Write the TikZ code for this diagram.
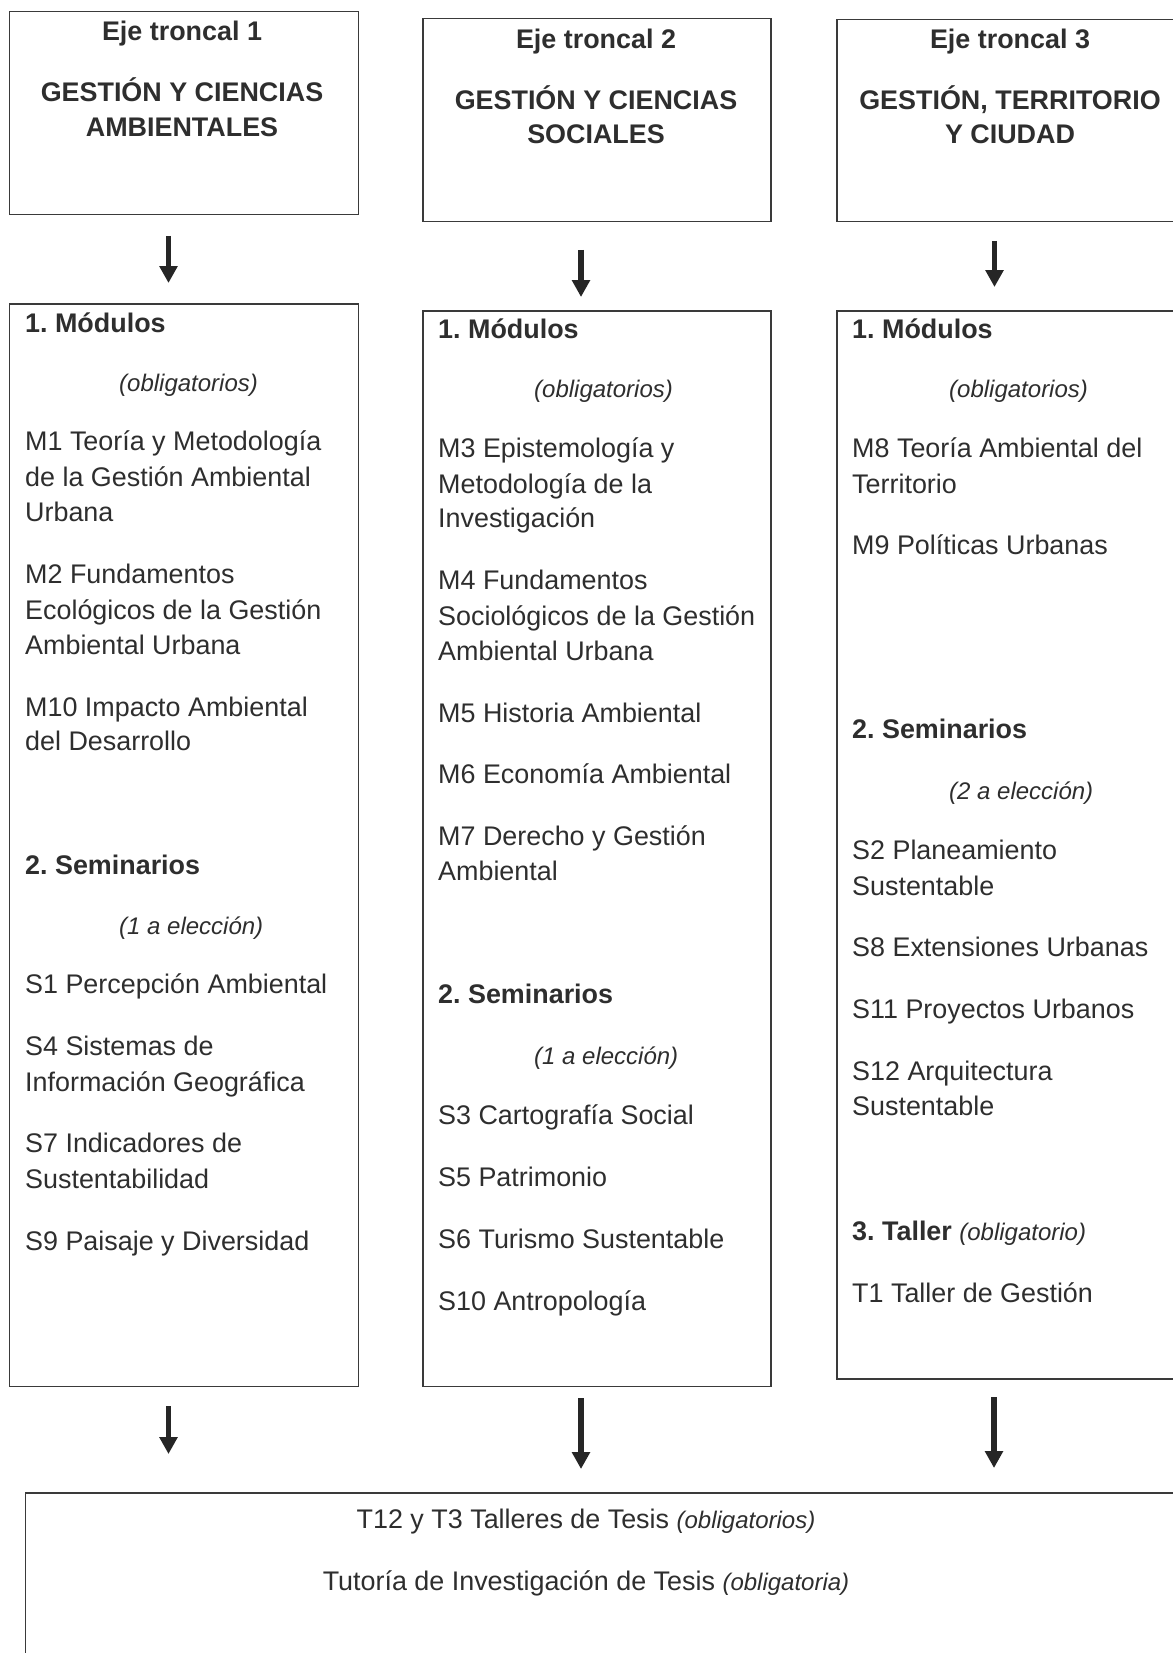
\documentclass[tikz,border=0pt]{standalone}
\usepackage{fontspec}
\setmainfont{Liberation Sans}
\usetikzlibrary{arrows.meta}
\definecolor{linec}{HTML}{3A3A3A}
\definecolor{textc}{HTML}{2E2E2E}
\newcommand{\fsz}{\fontsize{26.9}{35}\selectfont\frenchspacing}
\newcommand{\itx}[1]{{\fontsize{24}{30}\selectfont\itshape #1}}
\tikzset{
  box/.style={draw=linec, line width=1.5pt, inner sep=0pt, anchor=north west},
  txt/.style={anchor=base west, inner sep=0pt, text=textc, font=\fsz},
  ttl/.style={anchor=base, inner sep=0pt, text=textc, font=\fsz\bfseries},
  ctr/.style={anchor=base, inner sep=0pt, text=textc, font=\fsz},
  arr/.style={draw=black!85, line width=5.5pt, -{Triangle[width=17.5pt,length=17pt]}},
}
\begin{document}
\begin{tikzpicture}[x=1pt,y=-1pt]
\useasboundingbox[fill=white] (0,0) rectangle (1172,1653);

% top boxes
\node[box, minimum width=349pt, minimum height=203pt] (t1) at (8.5,11) {};
\node[box, minimum width=348pt, minimum height=203pt] (t2) at (422,18) {};
\node[box, minimum width=348pt, minimum height=202pt] (t3) at (836,19) {};
% middle boxes
\node[box, minimum width=349pt, minimum height=1082.5pt] (m1) at (8.5,303) {};
\node[box, minimum width=348pt, minimum height=1075.5pt] (m2) at (422,310) {};
\node[box, minimum width=348pt, minimum height=1068pt] (m3) at (836,310) {};
% bottom box
\node[box, minimum width=1170pt, minimum height=220pt] (bt) at (24.5,1492) {};

% arrows
\coordinate (a1s) at (168.5,236); \coordinate (a1e) at (168.5,283);
\coordinate (a2s) at (581,250);   \coordinate (a2e) at (581,297);
\coordinate (a3s) at (994.5,241); \coordinate (a3e) at (994.5,287);
\coordinate (b1s) at (168.5,1406); \coordinate (b1e) at (168.5,1454);
\coordinate (b2s) at (581,1398);   \coordinate (b2e) at (581,1469);
\coordinate (b3s) at (994,1397);   \coordinate (b3e) at (994,1468);
\draw[arr] (a1s) -- (a1e);
\draw[arr] (a2s) -- (a2e);
\draw[arr] (a3s) -- (a3e);
\draw[arr] (b1s) -- (b1e);
\draw[arr] (b2s) -- (b2e);
\draw[arr] (b3s) -- (b3e);

% titles
\node[ttl] (h1) at (182,41) {Eje troncal 1};
\node[ttl] (h1a) at (182,102) {GESTIÓN Y CIENCIAS};
\node[ttl] (h1b) at (182,137) {AMBIENTALES};
\node[ttl] (h2) at (596,48.5) {Eje troncal 2};
\node[ttl] (h2a) at (596,110) {GESTIÓN Y CIENCIAS};
\node[ttl] (h2b) at (596,144) {SOCIALES};
\node[ttl] (h3) at (1010,48.5) {Eje troncal 3};
\node[ttl] (h3a) at (1010,110) {GESTIÓN, TERRITORIO};
\node[ttl] (h3b) at (1010,144) {Y CIUDAD};

% column 1
\node[txt] (c1a) at (25,332) {\bfseries 1. Módulos};
\node[txt] (c1b) at (119,391) {\itx{(obligatorios)}};
\node[txt] (c1c) at (25,450) {M1 Teoría y Metodología};
\node[txt] (c1d) at (25,486) {de la Gestión Ambiental};
\node[txt] (c1e) at (25,521) {Urbana};
\node[txt] (c1f) at (25,583) {M2 Fundamentos};
\node[txt] (c1g) at (25,619) {Ecológicos de la Gestión};
\node[txt] (c1h) at (25,654) {Ambiental Urbana};
\node[txt] (c1i) at (25,716) {M10 Impacto Ambiental};
\node[txt] (c1j) at (25,750) {del Desarrollo};
\node[txt] (c1k) at (25,874) {\bfseries 2. Seminarios};
\node[txt] (c1l) at (119,934) {\itx{(1 a elección)}};
\node[txt] (c1m) at (25,993) {S1 Percepción Ambiental};
\node[txt] (c1n) at (25,1055) {S4 Sistemas de};
\node[txt] (c1o) at (25,1091) {Información Geográfica};
\node[txt] (c1p) at (25,1152) {S7 Indicadores de};
\node[txt] (c1q) at (25,1188) {Sustentabilidad};
\node[txt] (c1r) at (25,1250) {S9 Paisaje y Diversidad};

% column 2
\node[txt] (c2a) at (438,338) {\bfseries 1. Módulos};
\node[txt] (c2b) at (534,397) {\itx{(obligatorios)}};
\node[txt] (c2c) at (438,457) {M3 Epistemología y};
\node[txt] (c2d) at (438,493) {Metodología de la};
\node[txt] (c2e) at (438,527) {Investigación};
\node[txt] (c2f) at (438,589) {M4 Fundamentos};
\node[txt] (c2g) at (438,625) {Sociológicos de la Gestión};
\node[txt] (c2h) at (438,660) {Ambiental Urbana};
\node[txt] (c2i) at (438,722) {M5 Historia Ambiental};
\node[txt] (c2j) at (438,783) {M6 Economía Ambiental};
\node[txt] (c2k) at (438,845) {M7 Derecho y Gestión};
\node[txt] (c2l) at (438,880) {Ambiental};
\node[txt] (c2m) at (438,1003) {\bfseries 2. Seminarios};
\node[txt] (c2n) at (534,1064) {\itx{(1 a elección)}};
\node[txt] (c2o) at (438,1124) {S3 Cartografía Social};
\node[txt] (c2p) at (438,1186) {S5 Patrimonio};
\node[txt] (c2q) at (438,1248) {S6 Turismo Sustentable};
\node[txt] (c2r) at (438,1310) {S10 Antropología};

% column 3
\node[txt] (c3a) at (852,338) {\bfseries 1. Módulos};
\node[txt] (c3b) at (949,397) {\itx{(obligatorios)}};
\node[txt] (c3c) at (852,457) {M8 Teoría Ambiental del};
\node[txt] (c3d) at (852,493) {Territorio};
\node[txt] (c3e) at (852,554) {M9 Políticas Urbanas};
\node[txt] (c3f) at (852,738) {\bfseries 2. Seminarios};
\node[txt] (c3g) at (949,799) {\itx{(2 a elección)}};
\node[txt] (c3h) at (852,859) {S2 Planeamiento};
\node[txt] (c3i) at (852,895) {Sustentable};
\node[txt] (c3j) at (852,956) {S8 Extensiones Urbanas};
\node[txt] (c3k) at (852,1018) {S11 Proyectos Urbanos};
\node[txt] (c3l) at (852,1080) {S12 Arquitectura};
\node[txt] (c3m) at (852,1115) {Sustentable};
\node[txt] (c3n) at (852,1240) {{\bfseries 3. Taller} \itx{(obligatorio)}};
\node[txt] (c3o) at (852,1302) {T1 Taller de Gestión};

% bottom
\node[ctr] (f1) at (586,1528) {T12 y T3 Talleres de Tesis \itx{(obligatorios)}};
\node[ctr] (f2) at (586,1590) {Tutoría de Investigación de Tesis \itx{(obligatoria)}};
\end{tikzpicture}
\end{document}
